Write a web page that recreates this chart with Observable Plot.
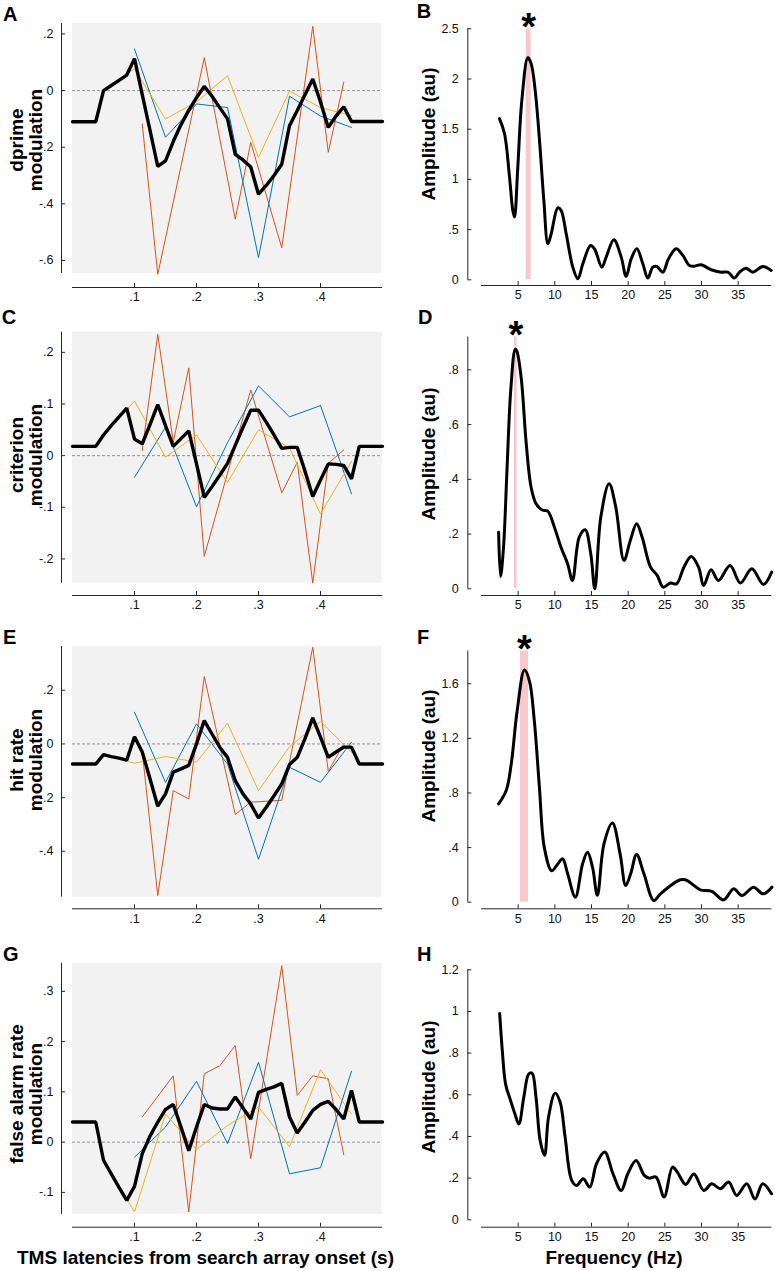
<!DOCTYPE html>
<html>
<head>
<meta charset="utf-8">
<script src="https://cdn.jsdelivr.net/npm/d3@7"></script>
<script src="https://cdn.jsdelivr.net/npm/@observablehq/plot@0.6"></script>
<style>
  body { margin: 0; background: #fff; font-family: "Liberation Sans", Arial, sans-serif; }
  #root { position: relative; width: 775px; height: 1271px; overflow: hidden; background: #fff; }
  .letter { position: absolute; font-weight: bold; font-size: 20px; line-height: 20px; color: #000; }
  .ytitle { position: absolute; font-weight: bold; font-size: 19px; line-height: 19px; white-space: pre; text-align: center; transform: translate(-50%, -50%) rotate(-90deg); color: #000; }
  .xtitle { position: absolute; font-weight: bold; font-size: 19px; line-height: 19px; white-space: nowrap; color: #000; }
</style>
</head>
<body>
<div id="root"></div>
<script>
// ---------------- DATA ----------------
// Left column: TMS latency (s)
const latencyDomain = [0, 0.5];
const latencyTicks = [0.1, 0.2, 0.3, 0.4];
const blackLatency = [0, 0.0375, 0.05, 0.0625, 0.075, 0.0875, 0.1, 0.1125, 0.125, 0.1375, 0.15, 0.1625, 0.175, 0.1875, 0.2, 0.2125, 0.225, 0.2375, 0.25, 0.2625, 0.275, 0.2875, 0.3, 0.3125, 0.325, 0.3375, 0.35, 0.3625, 0.375, 0.3875, 0.4, 0.4125, 0.425, 0.4375, 0.45, 0.4625, 0.5];
const blueLatency = [0.1, 0.15, 0.2, 0.25, 0.3, 0.35, 0.4, 0.45];
const yellowLatency = [0.05, 0.1, 0.15, 0.2, 0.25, 0.3, 0.35, 0.4, 0.45];

// A: dprime modulation
const blackA = [-0.11, -0.11, 0, 0.018, 0.036, 0.055, 0.113, -0.014, -0.14, -0.268, -0.248, -0.18, -0.12, -0.07, -0.025, 0.015, -0.02, -0.06, -0.1, -0.225, -0.245, -0.27, -0.366, -0.335, -0.3, -0.26, -0.124, -0.07, -0.015, 0.041, -0.04, -0.13, -0.09, -0.057, -0.109, -0.109, -0.109];
const blueA = [0.147, -0.165, -0.047, -0.06, -0.59, -0.02, -0.09, -0.13];
const yellowA = [0, 0.077, -0.1, -0.04, 0.053, -0.236, -0.002, -0.06, -0.088];
const redLatencyA = [0.1125, 0.1375, 0.2125, 0.2625, 0.2875, 0.3375, 0.3875, 0.4125, 0.4375];
const redA = [-0.118, -0.649, 0.116, -0.454, -0.183, -0.555, 0.227, -0.218, 0.03];
const yTicksA = [-0.6, -0.4, -0.2, 0, 0.2];

// C: criterion modulation
const blackC = [0.018, 0.018, 0.04, 0.058, 0.075, 0.092, 0.032, 0.023, 0.06, 0.099, 0.058, 0.018, 0.033, 0.048, -0.016, -0.081, -0.06, -0.038, -0.015, 0.02, 0.055, 0.088, 0.088, 0.065, 0.04, 0.014, 0.016, 0.016, -0.03, -0.079, -0.047, -0.016, -0.017, -0.019, -0.045, 0.018, 0.018];
const blueC = [-0.042, 0.055, -0.099, 0.025, 0.135, 0.075, 0.097, -0.074];
const yellowC = [0.039, 0.106, -0.003, 0.04, -0.052, 0.05, 0.015, -0.113, -0.011];
const redLatencyC = [0.1125, 0.1375, 0.1625, 0.1875, 0.2125, 0.2875, 0.3375, 0.3625, 0.3875, 0.4125, 0.4375];
const redC = [0.01, 0.235, 0.026, 0.17, -0.195, 0.127, -0.072, -0.013, -0.247, -0.015, 0.011];
const yTicksC = [-0.2, -0.1, 0, 0.1, 0.2];

// E: hit rate modulation
const blackE = [-0.075, -0.075, -0.04, -0.047, -0.053, -0.06, 0.027, -0.03, -0.13, -0.232, -0.186, -0.105, -0.093, -0.08, 0.0, 0.087, 0.037, -0.012, -0.05, -0.137, -0.186, -0.224, -0.276, -0.236, -0.193, -0.149, -0.077, -0.05, 0.02, 0.097, 0.025, -0.05, -0.03, -0.012, -0.012, -0.075, -0.075];
const blueE = [0.118, -0.143, 0.075, -0.075, -0.43, -0.087, -0.143, 0.006];
const yellowE = [-0.04, -0.072, -0.047, -0.068, 0.077, -0.174, -0.01, 0.084, -0.031];
const redLatencyE = [0.1125, 0.1375, 0.1625, 0.1875, 0.2125, 0.2625, 0.2875, 0.3375, 0.3875, 0.4125, 0.4375];
const redE = [-0.03, -0.565, -0.174, -0.205, 0.251, -0.263, -0.217, -0.21, 0.36, -0.102, 0.0];
const yTicksE = [-0.4, -0.2, 0, 0.2];

// G: false alarm rate modulation
const blackG = [0.04, 0.04, -0.036, -0.063, -0.09, -0.116, -0.088, -0.023, 0.012, 0.04, 0.065, 0.075, 0.03, -0.017, 0.03, 0.075, 0.068, 0.066, 0.066, 0.09, 0.068, 0.046, 0.099, 0.105, 0.11, 0.117, 0.05, 0.018, 0.04, 0.063, 0.075, 0.081, 0.065, 0.046, 0.103, 0.04, 0.04];
const blueG = [-0.03, 0.03, 0.121, -0.003, 0.159, -0.063, -0.051, 0.141];
const yellowG = [-0.036, -0.139, 0.056, -0.015, 0.033, 0.07, -0.009, 0.144, 0.056];
const redLatencyG = [0.1125, 0.1625, 0.1875, 0.2125, 0.2375, 0.2625, 0.2875, 0.3375, 0.3625, 0.3875, 0.4125, 0.4375];
const redG = [0.05, 0.132, -0.139, 0.136, 0.152, 0.192, -0.033, 0.351, 0.093, 0.132, 0.126, -0.025];
const yTicksG = [-0.1, 0, 0.1, 0.2, 0.3];

// Right column: amplitude spectra
const freqDomain = [0, 39.6];
const freqTicks = [5, 10, 15, 20, 25, 30, 35];

const freqB = [2.45, 3.14, 3.82, 4.27, 4.5, 4.95, 5.5, 6.32, 6.77, 7.32, 7.91, 8.5, 9.05, 9.5, 10.41, 10.86, 11.55, 12.45, 13.14, 13.82, 14.86, 15.41, 16.41, 17.0, 18.05, 19.05, 19.73, 20.41, 21.18, 22.0, 22.68, 23.36, 23.91, 24.73, 25.5, 26.55, 27.45, 28.36, 29.05, 29.95, 31.32, 32.68, 33.59, 34.5, 35.18, 36.09, 37.0, 38.36, 39.5];
const ampB = [1.605, 1.455, 1.023, 0.691, 0.625, 1.123, 1.787, 2.213, 2.153, 1.887, 1.389, 0.791, 0.359, 0.458, 0.718, 0.691, 0.458, 0.126, 0.01, 0.159, 0.342, 0.309, 0.126, 0.226, 0.399, 0.226, 0.033, 0.209, 0.309, 0.159, 0.017, 0.126, 0.133, 0.076, 0.209, 0.309, 0.243, 0.143, 0.136, 0.15, 0.1, 0.076, 0.076, 0.017, 0.076, 0.116, 0.076, 0.133, 0.093];
const bandB = [6.09, 6.77];
const yTicksB = [0, 0.5, 1, 1.5, 2, 2.5];

const freqD = [2.33, 2.6, 3.0, 3.5, 4.0, 4.6, 4.8, 5.4, 6.1, 6.76, 7.44, 8.35, 9.03, 9.93, 10.84, 11.75, 12.4, 13.33, 14.14, 14.9, 15.45, 16.27, 17.4, 18.3, 19.43, 20.3, 21.15, 21.9, 23.05, 23.96, 24.77, 25.77, 26.6, 27.6, 28.6, 29.6, 30.3, 31.3, 32.3, 33.9, 35.3, 36.86, 38.44, 39.57];
const ampD = [0.207, 0.045, 0.15, 0.45, 0.73, 0.875, 0.87, 0.774, 0.53, 0.372, 0.311, 0.287, 0.284, 0.226, 0.152, 0.091, 0.03, 0.189, 0.216, 0.128, 0.0, 0.262, 0.384, 0.3, 0.104, 0.177, 0.238, 0.189, 0.079, 0.049, 0.006, 0.021, 0.018, 0.079, 0.118, 0.079, 0.012, 0.07, 0.03, 0.085, 0.021, 0.073, 0.016, 0.061];
const bandD = [4.5, 4.86];
const yTicksD = [0, 0.2, 0.4, 0.6, 0.8];

const freqF = [2.33, 3.37, 4.05, 4.86, 5.86, 6.54, 7.2, 7.9, 8.57, 9.57, 10.4, 11.06, 11.74, 12.8, 13.78, 14.46, 15.14, 15.8, 16.7, 17.85, 18.9, 19.66, 20.34, 21.15, 22.15, 23.5, 24.4, 25.5, 27.1, 27.8, 28.7, 29.84, 31.4, 33.0, 34.4, 35.5, 37.1, 38.4, 39.6];
const ampF = [0.72, 0.818, 1.01, 1.4, 1.7, 1.62, 1.33, 0.84, 0.4, 0.23, 0.28, 0.318, 0.21, 0.037, 0.28, 0.366, 0.256, 0.05, 0.427, 0.58, 0.354, 0.122, 0.208, 0.35, 0.208, 0.012, 0.061, 0.11, 0.164, 0.164, 0.134, 0.09, 0.08, 0.017, 0.098, 0.049, 0.11, 0.061, 0.11];
const bandF = [5.32, 6.41];
const yTicksF = [0, 0.4, 0.8, 1.2, 1.6];

const freqH = [2.48, 2.84, 3.29, 3.96, 4.55, 5.09, 5.77, 6.44, 6.9, 7.43, 8.0, 8.6, 9.14, 10.04, 10.72, 11.4, 12.3, 12.97, 13.87, 14.77, 15.68, 16.8, 17.93, 19.05, 19.95, 21.08, 22.2, 22.88, 23.8, 24.9, 26.04, 26.7, 27.84, 28.96, 30.3, 31.4, 32.57, 33.7, 34.8, 36.17, 37.3, 38.33, 39.55];
const ampH = [0.99, 0.81, 0.65, 0.573, 0.509, 0.46, 0.589, 0.7, 0.704, 0.589, 0.38, 0.31, 0.493, 0.608, 0.565, 0.397, 0.189, 0.165, 0.197, 0.157, 0.269, 0.325, 0.221, 0.141, 0.221, 0.285, 0.213, 0.2, 0.205, 0.109, 0.253, 0.229, 0.17, 0.22, 0.141, 0.173, 0.149, 0.181, 0.117, 0.173, 0.1, 0.173, 0.125];
const yTicksH = [0, 0.2, 0.4, 0.6, 0.8, 1, 1.2];

// ---------------- STYLE / LAYOUT ----------------
const COLORS = {blue: "#0072BD", red: "#D95319", yellow: "#EDB120", black: "#000", axis: "#262626", band: "#f8c9c9", bg: "#f2f2f2", zero: "#7a7a7a"};
const FONT = '"Liberation Sans", Arial, Helvetica, sans-serif';
const fmt = v => v === 0 ? "0" : String(+(+v).toFixed(2)).replace(/^(-?)0\./, "$1.");

const root = document.getElementById("root");
function place(node, left, top) {
  const d = document.createElement("div");
  d.style.position = "absolute";
  d.style.left = left + "px";
  d.style.top = top + "px";
  d.appendChild(node);
  root.appendChild(d);
}
function addText(cls, text, css) {
  const d = document.createElement("div");
  d.className = cls;
  d.textContent = text;
  Object.assign(d.style, css);
  root.appendChild(d);
}

function leftPanel(p) {
  const loc = v => v - p.rowTop;
  const svg = Plot.plot({
    width: 390, height: p.height,
    marginLeft: 61, marginRight: 8,
    marginTop: loc(p.grayTop), marginBottom: p.height - loc(p.xAxisY),
    style: {fontFamily: FONT, fontSize: "12px", overflow: "visible", background: "none", color: "#111"},
    x: {domain: latencyDomain, range: [72, 382]},
    y: {domain: p.yDomain, range: [loc(p.grayBottom), loc(p.grayTop)]},
    marks: [
      Plot.rect([0], {x1: latencyDomain[0], x2: latencyDomain[1], y1: p.yDomain[0], y2: p.yDomain[1], fill: COLORS.bg}),
      Plot.ruleY([0], {x1: latencyDomain[0], x2: latencyDomain[1], stroke: COLORS.zero, strokeWidth: 0.8, strokeDasharray: "3,2"}),
      Plot.line(p.red, {x: p.redLat, y: p.red, stroke: COLORS.red, strokeWidth: 1}),
      Plot.line(p.blue, {x: blueLatency, y: p.blue, stroke: COLORS.blue, strokeWidth: 1}),
      Plot.line(p.yellow, {x: yellowLatency, y: p.yellow, stroke: COLORS.yellow, strokeWidth: 1}),
      Plot.line(p.black, {x: blackLatency, y: p.black, stroke: COLORS.black, strokeWidth: 3.4, strokeLinejoin: "miter"}),
      Plot.ruleX([latencyDomain[0]], {y1: p.yDomain[0], y2: p.yDomain[1], dx: -11, stroke: COLORS.axis, strokeWidth: 1}),
      Plot.ruleY([p.yDomain[0]], {x1: latencyDomain[0], x2: latencyDomain[1], dy: p.xAxisY - p.grayBottom, stroke: COLORS.axis, strokeWidth: 1}),
      Plot.axisY(p.yTicks, {anchor: "left", tickSize: -4, tickPadding: 12, tickFormat: fmt, fontSize: 12.5, label: null, stroke: COLORS.axis}),
      Plot.axisX(latencyTicks, {anchor: "bottom", tickSize: -4, tickPadding: 9, tickFormat: fmt, fontSize: 12.5, label: null, stroke: COLORS.axis})
    ]
  });
  place(svg, 0, p.rowTop);
}

function rightPanel(p) {
  const loc = v => v - p.rowTop;
  const marks = [];
  if (p.band) {
    marks.push(Plot.rect([0], {x1: p.band[0], x2: p.band[1], y1: 0, y2: p.yMax, fill: COLORS.band}));
    marks.push(Plot.text(["*"], {x: (p.band[0] + p.band[1]) / 2, y: p.yMax, fontSize: 38, fontWeight: "bold", lineAnchor: "bottom", dy: 11, fill: "#000"}));
  }
  marks.push(
    Plot.line(p.amp, {x: p.freq, y: p.amp, stroke: COLORS.black, strokeWidth: 3, curve: "catmull-rom"}),
    Plot.ruleX([freqDomain[0]], {y1: 0, y2: p.yMax, dx: -13.7, stroke: COLORS.axis, strokeWidth: 1}),
    Plot.ruleY([0], {x1: freqDomain[0], x2: freqDomain[1], dy: p.xAxisY - p.y0px, stroke: COLORS.axis, strokeWidth: 1}),
    Plot.axisY(p.yTicks, {anchor: "left", tickSize: -4, tickPadding: 13, tickFormat: fmt, fontSize: 12.5, label: null, stroke: COLORS.axis}),
    Plot.axisX(freqTicks, {anchor: "bottom", tickSize: -4, tickPadding: 9, fontSize: 12.5, label: null, stroke: COLORS.axis})
  );
  const svg = Plot.plot({
    width: 385, height: p.height,
    marginLeft: 77.3, marginRight: 3,
    marginTop: loc(p.yTopPx), marginBottom: p.height - loc(p.xAxisY),
    style: {fontFamily: FONT, fontSize: "12px", overflow: "visible", background: "none", color: "#111"},
    x: {domain: freqDomain, range: [91, 381.4]},
    y: {domain: [0, p.yMax], range: [loc(p.y0px), loc(p.yTopPx)]},
    marks
  });
  place(svg, 390, p.rowTop);
}

leftPanel({rowTop: 0, height: 302, grayTop: 23, grayBottom: 273, xAxisY: 287, yDomain: [-0.646, 0.237], yTicks: yTicksA, black: blackA, blue: blueA, yellow: yellowA, red: redA, redLat: redLatencyA});
leftPanel({rowTop: 300, height: 310, grayTop: 331.7, grayBottom: 582.7, xAxisY: 595, yDomain: [-0.247, 0.239], yTicks: yTicksC, black: blackC, blue: blueC, yellow: yellowC, red: redC, redLat: redLatencyC});
leftPanel({rowTop: 610, height: 312, grayTop: 646, grayBottom: 896.7, xAxisY: 908.3, yDomain: [-0.571, 0.363], yTicks: yTicksE, black: blackE, blue: blueE, yellow: yellowE, red: redE, redLat: redLatencyE});
leftPanel({rowTop: 918, height: 325, grayTop: 962.7, grayBottom: 1214, xAxisY: 1226.7, yDomain: [-0.144, 0.356], yTicks: yTicksG, black: blackG, blue: blueG, yellow: yellowG, red: redG, redLat: redLatencyG});

rightPanel({rowTop: 0, height: 302, y0px: 279.3, yTopPx: 28.3, yMax: 2.5, xAxisY: 285, yTicks: yTicksB, freq: freqB, amp: ampB, band: bandB});
rightPanel({rowTop: 300, height: 310, y0px: 588.3, yTopPx: 336.5, yMax: 0.92, xAxisY: 595, yTicks: yTicksD, freq: freqD, amp: ampD, band: bandD});
rightPanel({rowTop: 610, height: 312, y0px: 901.7, yTopPx: 650.5, yMax: 1.84, xAxisY: 908.3, yTicks: yTicksF, freq: freqF, amp: ampF, band: bandF});
rightPanel({rowTop: 918, height: 325, y0px: 1219.3, yTopPx: 969.3, yMax: 1.2, xAxisY: 1226.7, yTicks: yTicksH, freq: freqH, amp: ampH, band: null});

// Panel letters
const letters = [["A", 3, 4.4], ["B", 416.7, 1], ["C", 1.7, 307.4], ["D", 418, 307.4], ["E", 3, 627.4], ["F", 417, 627.4], ["G", 3, 944.4], ["H", 417, 944.4]];
letters.forEach(([t, x, y]) => addText("letter", t, {left: x + "px", top: y + "px"}));

// Axis titles
const yTitles = [
  ["dprime\nmodulation", 25.5, 140], ["criterion\nmodulation", 25.5, 455], ["hit rate\nmodulation", 25.5, 760], ["false alarm rate\nmodulation", 25.5, 1094],
  ["Amplitude (au)", 427.5, 134], ["Amplitude (au)", 427.5, 454], ["Amplitude (au)", 427.5, 756], ["Amplitude (au)", 427.5, 1087]
];
yTitles.forEach(([t, cx, cy]) => addText("ytitle", t, {left: cx + "px", top: cy + "px"}));
addText("xtitle", "TMS latencies from search array onset (s)", {left: "17px", top: "1248px"});
addText("xtitle", "Frequency (Hz)", {left: "614px", top: "1248px", transform: "translateX(-50%)"});
</script>
</body>
</html>
